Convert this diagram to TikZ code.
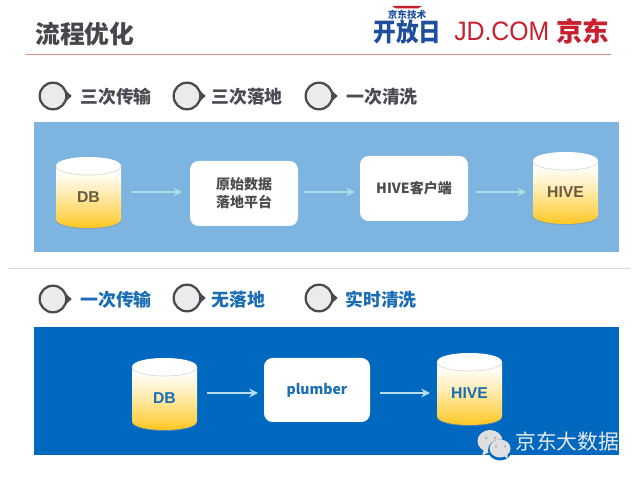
\documentclass[tikz,border=0pt]{standalone}
\usepackage{fontspec}
\setmainfont{Liberation Sans}
\newfontfamily\cjk{Noto Sans CJK SC}
\usetikzlibrary{arrows.meta}
\definecolor{titlec}{HTML}{46464C}
\definecolor{itemc}{HTML}{4A4A52}
\definecolor{bluec}{HTML}{1A6DB4}
\definecolor{panelA}{HTML}{7EB4E0}
\definecolor{panelB}{HTML}{0069BF}
\definecolor{redc}{HTML}{C9202E}
\definecolor{rulec}{HTML}{DC8A8E}
\definecolor{logoblue}{HTML}{1E4E9C}
\definecolor{brownc}{HTML}{6A5A40}
\definecolor{arrowA}{HTML}{A9DCE4}
\definecolor{arrowB}{HTML}{B5DDF2}
\definecolor{cylA}{HTML}{FFC20F}
\definecolor{cylB}{HTML}{FFD24D}
\definecolor{cylC}{HTML}{FFEDB5}
\definecolor{cylD}{HTML}{FFFFFF}
\pgfdeclareverticalshading{cylshade}{100bp}{
 color(0bp)=(cylA);
 color(25bp)=(cylA);
 color(33bp)=(cylB);
 color(50bp)=(cylC);
 color(64bp)=(cylD);
 color(100bp)=(cylD)}
\tikzset{
 flowbox/.style={draw=none,fill=white,rounded corners=6.5pt,inner sep=0pt,align=center,font=\cjk\bfseries\fontsize{10.5pt}{13.5pt}\selectfont},
 flowarrow/.style={line width=1.2pt,-{Stealth[length=6.5pt,width=6.5pt]}},
 bullettext/.style={anchor=west,inner sep=0pt,font=\cjk\bfseries\fontsize{13.4pt}{15pt}\selectfont},
 cylhold/.style={inner sep=0pt,draw=none},
 logotext/.style={inner sep=0pt,text=redc}
}
\newcommand\bulletmark[2]{%
 \fill[#2] ([xshift=7.5pt]#1) -- ++(6.5pt,0) -- ([xshift=8pt,yshift=-5.5pt]#1) -- cycle;
 \fill[#2] ([xshift=7.5pt]#1) -- ++(6.5pt,0) -- ([xshift=8pt,yshift=5.5pt]#1) -- cycle;
 \draw[line width=1.7pt,draw=#2,fill=gray!16] (#1) circle[radius=10pt];
}
% name, x1, x2, top, bottom, label, label colour
\newcommand\cyl[7]{%
 \pgfmathsetmacro\xa{#2}\pgfmathsetmacro\xb{#3}\pgfmathsetmacro\ya{#4}\pgfmathsetmacro\yb{#5}%
 \pgfmathsetmacro\xm{(#2+#3)/2}\pgfmathsetmacro\ye{#4+9}\pgfmathsetmacro\yf{#5-9}%
 \pgfmathsetmacro\yg{#4+18}\pgfmathsetmacro\yh{#5+1.5}%
 \fill[gray!60!panelA,opacity=.6] (\xa,\yf+1.5) .. controls (\xa,\yh+3) and (\xb,\yh+3) .. (\xb,\yf+1.5) -- cycle;
 \shade[shading=cylshade] (\xa,\ye) .. controls (\xa,\ya-3) and (\xb,\ya-3) .. (\xb,\ye)
   -- (\xb,\yf) .. controls (\xb,\yb+3) and (\xa,\yb+3) .. (\xa,\yf) -- cycle;
 \draw[gray!30,line width=.5pt] (\xa,\ye) .. controls (\xa,\yg+3) and (\xb,\yg+3) .. (\xb,\ye);
 \node[cylhold,minimum width={(#3-#2)*.75pt},minimum height={(#5-#4)*.75pt}] (#1) at (\xm,{(#4+#5)/2}) {};
 \node[inner sep=0pt,font=\bfseries\fontsize{11.8pt}{13pt}\selectfont,text=#7] (#1t) at (\xm,#4+40.5) {#6};
}
\begin{document}
\begin{tikzpicture}[x=.75pt,y=-.75pt]
\useasboundingbox (0,0) rectangle (640,477);
\fill[white] (0,0) rectangle (640,477);
% header
\node[anchor=west,inner sep=0pt,text=titlec,font=\cjk\bfseries\fontsize{18.6pt}{20pt}\selectfont] (title) at (35,34) {流程优化};
\coordinate (ruleL) at (26,54); \coordinate (ruleR) at (611,54);
\draw[rulec,line width=.7pt] (ruleL) -- (ruleR);
% logo
\node[inner sep=0pt,text=logoblue,font=\cjk\bfseries\fontsize{7.2pt}{7pt}\selectfont] (logoA) at (407,15) {京东技术};
\node[inner sep=0pt,text=logoblue,yscale=1.12,font=\cjk\fontsize{17pt}{18pt}\selectfont\bfseries] (logoB) at (407.5,32) {开放日};
\fill[redc] (392,6) -- (422,6) -- (418,8.5) -- (396,8.5) -- cycle;
\node[logotext,anchor=west,font=\fontsize{20pt}{22pt}\selectfont,xscale=.93] (logoC) at (454,31) {JD.COM};
\node[logotext,anchor=west,font=\cjk\bfseries\fontsize{20pt}{22pt}\selectfont] (logoD) at (556,31) {京东};
% first row bullets
\bulletmark{53,96}{itemc}
\bulletmark{187,96}{itemc}
\bulletmark{319,96}{itemc}
\node[bullettext,text=itemc] (ta) at (80,97) {三次传输};
\node[bullettext,text=itemc] (tb) at (211,97) {三次落地};
\node[bullettext,text=itemc] (tc) at (346,97) {一次清洗};
% top panel
\fill[panelA] (34,122) rectangle (619,252);
\cyl{dba}{56}{121}{157}{228}{DB}{brownc}
\node[flowbox,text=black!70,minimum width=81pt,minimum height=48.75pt] (raw) at (244,193.5) {原始数据\\落地平台};
\node[flowbox,text=black!70,minimum width=81pt,minimum height=48.75pt] (cli) at (414,188.5) {HIVE客户端};
\cyl{hivea}{533}{598}{152}{224}{HIVE}{brownc}
\begin{scope}[every path/.style={flowarrow,draw=arrowA}]
\coordinate (a1) at (131,192); \coordinate (a2) at (182,192);
\coordinate (a3) at (304,192); \coordinate (a4) at (355,192);
\coordinate (a5) at (476,192); \coordinate (a6) at (526,192);
\draw (a1) -- (a2);
\draw (a3) -- (a4);
\draw (a5) -- (a6);
\end{scope}
% separator
\coordinate (sepL) at (9,268); \coordinate (sepR) at (630,268);
\draw[gray!30,line width=.7pt] (sepL) -- (sepR);
% second row bullets
\bulletmark{53,299}{itemc}
\bulletmark{187,298}{itemc}
\bulletmark{319,298}{itemc}
\node[bullettext,text=bluec] (td) at (80,300) {一次传输};
\node[bullettext,text=bluec] (te) at (211,300) {无落地};
\node[bullettext,text=bluec] (tf) at (345,300) {实时清洗};
% bottom panel
\fill[panelB] (34,327) rectangle (619,455);
\cyl{dbb}{132}{197}{358}{430}{DB}{bluec}
\node[flowbox,text=bluec,minimum width=79.5pt,minimum height=48pt] (pl) at (317,390) {plumber};
\cyl{hiveb}{437}{502}{353}{425}{HIVE}{bluec}
\begin{scope}[every path/.style={flowarrow,draw=arrowB}]
\coordinate (b1) at (207,393); \coordinate (b2) at (258,393);
\coordinate (b3) at (380,393); \coordinate (b4) at (430,393);
\draw (b1) -- (b2);
\draw (b3) -- (b4);
\end{scope}
% watermark
\fill[gray!25!white] (490,441) ellipse[x radius=12.5,y radius=11];
\fill[gray!25!white] (484,449) -- (482,456) -- (491,451) -- cycle;
\fill[gray!60] (486,438) circle[radius=1.5] (495,438) circle[radius=1.5];
\fill[panelB] (500,450) ellipse[x radius=12,y radius=10.5];
\fill[gray!25!white] (500,448.5) ellipse[x radius=10.5,y radius=9];
\fill[gray!25!white] (503,455) -- (508,459) -- (507,453) -- cycle;
\fill[gray!60] (496,446.5) circle[radius=1.3] (505,446.5) circle[radius=1.3];
\node[anchor=west,inner sep=0pt,text=gray!18!white,font=\cjk\fontsize{15.6pt}{17pt}\selectfont] (wm) at (515,442) {京东大数据};
\end{tikzpicture}
\end{document}
